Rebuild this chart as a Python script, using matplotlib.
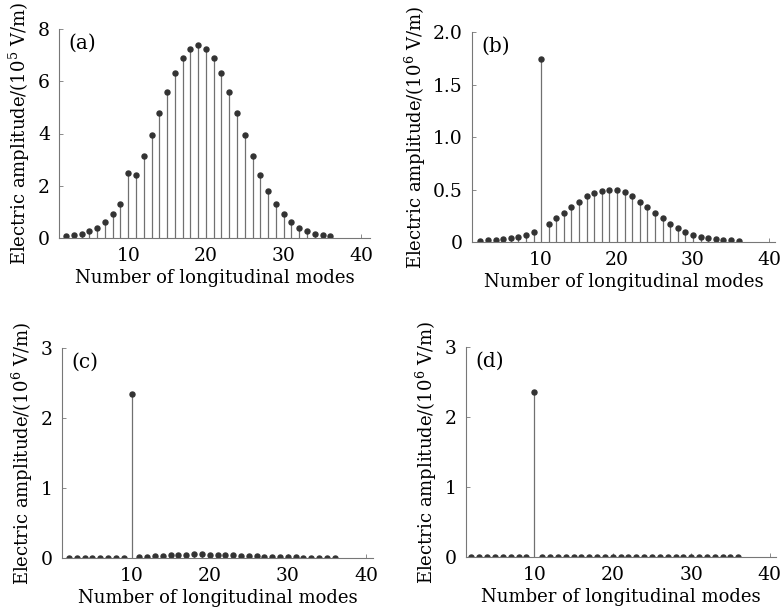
import numpy as np
import matplotlib
matplotlib.use("Agg")
import matplotlib.pyplot as plt

plt.rcParams['font.family'] = ['DejaVu Serif']
plt.rcParams['mathtext.fontset'] = 'dejavuserif'

modes = list(range(2, 37))

amp_a = [0.08, 0.10, 0.15, 0.25, 0.40, 0.60, 0.90, 1.30, 2.50, 2.42, 3.15, 3.95,
         4.78, 5.60, 6.30, 6.90, 7.25, 7.38, 7.25, 6.90, 6.30, 5.60, 4.78, 3.95,
         3.15, 2.42, 1.80, 1.30, 0.90, 0.60, 0.40, 0.25, 0.15, 0.10, 0.07]
amp_b = [0.010, 0.015, 0.020, 0.030, 0.040, 0.050, 0.070, 0.095, 1.740, 0.175,
         0.225, 0.275, 0.335, 0.385, 0.435, 0.470, 0.490, 0.500, 0.495, 0.475,
         0.435, 0.385, 0.335, 0.275, 0.225, 0.170, 0.130, 0.095, 0.070, 0.050,
         0.035, 0.025, 0.020, 0.015, 0.010]
amp_c = [0.004, 0.004, 0.004, 0.004, 0.004, 0.004, 0.004, 0.005, 2.350, 0.015,
         0.020, 0.030, 0.035, 0.040, 0.045, 0.050, 0.052, 0.052, 0.050, 0.048,
         0.045, 0.040, 0.035, 0.030, 0.025, 0.020, 0.015, 0.012, 0.010, 0.008,
         0.006, 0.005, 0.004, 0.004, 0.004]
amp_d = [0.002] * 8 + [2.360] + [0.002] * 26

panels = ['(a)', '(b)', '(c)', '(d)']
ylabels = ['Electric amplitude/(10$^{5}$ V/m)', 'Electric amplitude/(10$^{6}$ V/m)',
           'Electric amplitude/(10$^{6}$ V/m)', 'Electric amplitude/(10$^{6}$ V/m)']
yticks = [[0, 2, 4, 6, 8], [0, 0.5, 1.0, 1.5, 2.0], [0, 1, 2, 3], [0, 1, 2, 3]]
yticklabels = [['0', '2', '4', '6', '8'], ['0', '0.5', '1.0', '1.5', '2.0'],
               ['0', '1', '2', '3'], ['0', '1', '2', '3']]
xticks = [10, 20, 30, 40]
data = [amp_a, amp_b, amp_c, amp_d]

W, H = 783, 611
boxes = [(59, 29, 370, 238), (472, 32, 775, 242), (62, 348, 373, 558), (466, 347, 776, 557)]
xlims = [(1.1, 41.1), (0.9, 40.8), (1.1, 40.9), (1.3, 40.8)]

fig = plt.figure(figsize=(W / 100, H / 100), dpi=100)
for i in range(4):
    x0, y0, x1, y1 = boxes[i]
    ax = fig.add_axes([x0 / W, 1 - y1 / H, (x1 - x0) / W, (y1 - y0) / H])
    ml, sl, bl = ax.stem(modes, data[i], basefmt=' ')
    plt.setp(sl, color='#707070', linewidth=0.9)
    plt.setp(ml, color='#333333', markersize=3.6)
    ax.set_xlim(*xlims[i])
    ax.set_ylim(yticks[i][0], yticks[i][-1])
    ax.set_xticks(xticks)
    ax.set_yticks(yticks[i])
    ax.set_yticklabels(yticklabels[i])
    for s in ['top', 'right']:
        ax.spines[s].set_visible(False)
    for s in ['left', 'bottom']:
        ax.spines[s].set_color('#777777')
        ax.spines[s].set_linewidth(0.8)
    ax.tick_params(direction='in', length=3, width=0.6, color='#777777',
                   labelsize=13.5, pad=6.5)
    ax.set_xlabel('Number of longitudinal modes', fontsize=13, labelpad=3)
    ax.set_ylabel(ylabels[i], fontsize=13, labelpad=4)
    ax.text(0.03, 0.975, panels[i], transform=ax.transAxes, fontsize=14.5,
            va='top', ha='left')

fig.savefig('out.png', dpi=100)
